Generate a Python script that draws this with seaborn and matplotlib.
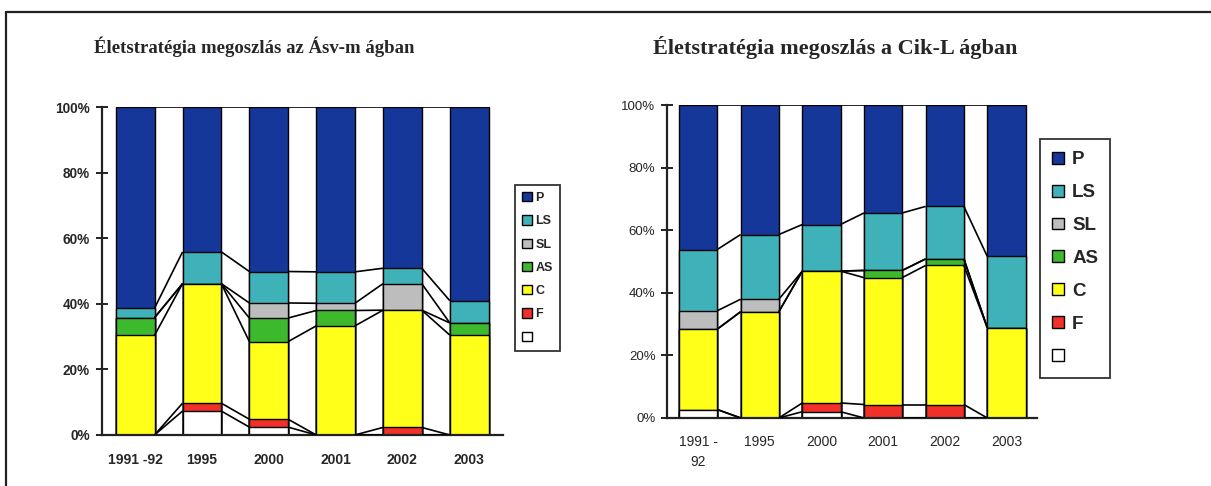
import numpy as np
import pandas as pd
import matplotlib
matplotlib.use("Agg")
import matplotlib.pyplot as plt
from matplotlib.patches import Patch
from matplotlib.lines import Line2D
import seaborn as sns

# ---------------- data ----------------
series_names = ["", "F", "C", "AS", "SL", "LS", "P"]          # bottom -> top
legend_order = ["P", "LS", "SL", "AS", "C", "F", ""]

left_title = "Életstratégia megoszlás az Ásv-m ágban"
left_categories = ["1991 -92", "1995", "2000", "2001", "2002", "2003"]
left_blank = [0.0, 7.3, 2.4, 0.0, 0.0, 0.0]
left_F = [0.0, 2.4, 2.4, 0.0, 2.3, 0.0]
left_C = [30.4, 36.5, 23.7, 33.3, 35.8, 30.5]
left_AS = [5.4, 0.0, 7.2, 4.7, 0.0, 3.7]
left_SL = [0.0, 0.0, 4.6, 2.2, 8.1, 0.0]
left_LS = [2.9, 9.7, 9.6, 9.6, 4.7, 6.8]
left_P = [61.3, 44.1, 50.1, 50.2, 49.1, 59.0]

right_title = "Életstratégia megoszlás a Cik-L ágban"
right_categories = ["1991 -\n92", "1995", "2000", "2001", "2002", "2003"]
right_blank = [2.7, 0.0, 2.0, 0.0, 0.0, 0.0]
right_F = [0.0, 0.0, 2.8, 4.3, 4.3, 0.0]
right_C = [25.7, 34.0, 42.2, 40.6, 44.5, 28.9]
right_AS = [0.0, 0.0, 0.0, 2.3, 2.1, 0.0]
right_SL = [5.9, 4.0, 0.0, 0.0, 0.0, 0.0]
right_LS = [19.6, 20.7, 14.9, 18.4, 16.8, 22.8]
right_P = [46.1, 41.3, 38.1, 34.4, 32.3, 48.3]

y_ticks = [0, 20, 40, 60, 80, 100]
y_ticklabels = ["0%", "20%", "40%", "60%", "80%", "100%"]

# ---------------- styles ----------------
colors = {"P": "#15379a", "LS": "#3fb2b9", "SL": "#bdbdbd", "AS": "#3db92e",
          "C": "#ffff1a", "F": "#f2302a", "": "#ffffff"}

sns.set_theme(style="white")
plt.rcParams["font.family"] = ["Liberation Sans", "DejaVu Sans"]

fig = plt.figure(figsize=(12.11, 4.86), dpi=100)
fig.patch.set_facecolor("white")


def draw_panel(ax, cats, layers, width, bold, ytick_fs, xtick_fs, xpad, legend_fs,
               legend_bbox, legend_spacing, handle_size, text_pad, border_pad):
    df = pd.DataFrame({"cat": cats})
    cum = np.zeros(len(cats))
    cums = []
    for name in series_names:
        cum = cum + np.array(layers[name], dtype=float)
        cums.append(cum.copy())
    # draw tallest cumulative first, overlay lower ones
    for name, c in reversed(list(zip(series_names, cums))):
        d = df.copy()
        d["val"] = c
        sns.barplot(data=d, x="cat", y="val", order=cats, color=colors[name],
                    saturation=1, width=width, edgecolor="black", linewidth=1.0,
                    errorbar=None, ax=ax)
    # series lines
    n = len(cats)
    for c in cums:
        for i in range(n - 1):
            ax.plot([i + width / 2, i + 1 - width / 2], [c[i], c[i + 1]],
                    color="black", lw=1.2, zorder=5, solid_capstyle="butt")
    ax.set_xlim(-0.5, n - 0.5)
    ax.set_ylim(0, 100)
    ax.set_xlabel("")
    ax.set_ylabel("")
    for s in ["top", "right"]:
        ax.spines[s].set_visible(False)
    for s in ["left", "bottom"]:
        ax.spines[s].set_color("#222222")
        ax.spines[s].set_linewidth(1.6)
    weight = "bold" if bold else "normal"
    ax.set_yticks(y_ticks)
    ax.set_yticklabels(y_ticklabels, fontsize=ytick_fs, fontweight=weight)
    ax.set_xticks(range(n))
    ax.set_xticklabels(cats, fontsize=xtick_fs, fontweight=weight, linespacing=1.55)
    ax.set_xticks(np.arange(-0.5, n, 1.0), minor=True)
    ax.tick_params(axis="x", which="major", length=0, pad=xpad)
    ax.tick_params(axis="x", which="minor", direction="inout", length=8, width=1.4, color="#222222")
    ax.tick_params(axis="y", which="major", direction="inout", length=9, width=1.4,
                   color="#222222", pad=4, left=True)
    ax.set_facecolor("white")
    ax.grid(False)
    handles = [Patch(facecolor=colors[k], edgecolor="black", linewidth=1.0) for k in legend_order]
    leg = ax.legend(handles, legend_order, loc="center left", bbox_to_anchor=legend_bbox,
                    bbox_transform=fig.transFigure, frameon=True, fancybox=False,
                    handlelength=handle_size, handleheight=handle_size, handletextpad=text_pad,
                    labelspacing=legend_spacing, borderpad=border_pad, borderaxespad=0,
                    prop={"size": legend_fs, "weight": "bold"})
    leg.get_frame().set_edgecolor("black")
    leg.get_frame().set_linewidth(1.3)


ax1 = fig.add_axes([0.084, 0.105, 0.331, 0.674])
draw_panel(ax1, left_categories,
           {"": left_blank, "F": left_F, "C": left_C, "AS": left_AS,
            "SL": left_SL, "LS": left_LS, "P": left_P},
           width=0.58, bold=True, ytick_fs=9.8, xtick_fs=10, xpad=13, legend_fs=9,
           legend_bbox=(0.425, 0.449), legend_spacing=0.9, handle_size=0.75,
           text_pad=0.3, border_pad=0.6)

ax2 = fig.add_axes([0.551, 0.140, 0.3055, 0.643])
draw_panel(ax2, right_categories,
           {"": right_blank, "F": right_F, "C": right_C, "AS": right_AS,
            "SL": right_SL, "LS": right_LS, "P": right_P},
           width=0.62, bold=False, ytick_fs=9.5, xtick_fs=10, xpad=12, legend_fs=13.5,
           legend_bbox=(0.859, 0.468), legend_spacing=0.85, handle_size=0.6,
           text_pad=0.45, border_pad=0.65)

fig.text(0.21, 0.903, left_title, ha="center", va="center", fontsize=13.5,
         fontweight="bold", family=["Liberation Serif", "DejaVu Serif"])
fig.text(0.69, 0.903, right_title, ha="center", va="center", fontsize=16,
         fontweight="bold", family=["Liberation Serif", "DejaVu Serif"])

# outer frame (top and left edges)
fig.add_artist(Line2D([0.005, 1.0], [0.975, 0.975], transform=fig.transFigure,
                      color="#222222", lw=1.6))
fig.add_artist(Line2D([0.005, 0.005], [0.0, 0.975], transform=fig.transFigure,
                      color="#222222", lw=1.6))

fig.savefig("out.png", dpi=100, facecolor="white")
